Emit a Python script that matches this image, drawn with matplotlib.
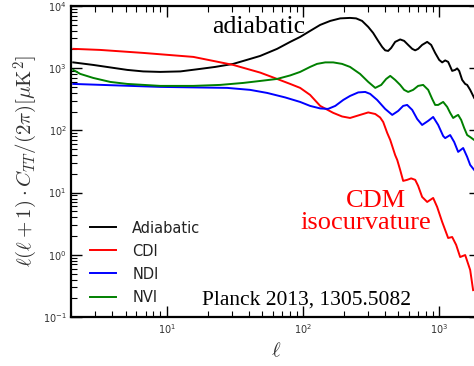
import matplotlib
matplotlib.use('Agg')
import matplotlib.pyplot as plt

plt.rcParams['mathtext.fontset'] = 'cm'

# values (multipole ell, l(l+1)C/2pi in muK^2)
ell_ad = [2.06, 2.89, 3.85, 5.13, 6.72, 8.96, 12.6, 17.6, 22.7, 30.8, 41.0, 48.6, 64.7,
          80.7, 95.5, 113, 134, 159, 188, 222, 246, 272, 302, 328, 357, 382, 402, 423,
          445, 476, 518, 554, 593, 635, 668, 702, 751, 818, 875, 936, 1002, 1054, 1109,
          1166, 1248, 1313, 1358, 1405, 1478, 1555, 1608, 1692, 1810]
cl_ad = [1236, 1125, 1026, 936, 885, 869, 885, 971, 1045, 1169, 1405, 1570, 2040,
         2640, 3170, 3960, 4950, 5740, 6300, 6410, 6300, 5740, 4590, 3680, 2740, 2190,
         1930, 1890, 2110, 2640, 2890, 2740, 2360, 2040, 1930, 2040, 2360, 2640, 2360,
         1755, 1355, 1236, 1330, 1259, 902, 936, 989, 902, 646, 557, 537, 447, 332]

ell_cdi = [2.06, 3.25, 6.72, 15.7, 30.8, 48.6, 64.7, 80.7, 95.5, 113, 134, 167, 194,
           222, 263, 302, 340, 369, 389, 416, 438, 476, 493, 518, 545, 583, 624, 668,
           702, 751, 818, 860, 905, 968, 1054, 1166, 1248, 1335, 1428, 1555, 1692, 1778]
cl_cdi = [2040, 1960, 1755, 1514, 1125, 847, 670, 557, 481, 371, 247, 191, 167, 158,
          177, 194, 183, 161, 136, 91, 70, 40, 33.4, 23.1, 15.4, 16.0, 16.9, 16.0, 12.8,
          8.5, 7.06, 7.6, 8.19, 5.87, 3.37, 1.86, 1.93, 1.44, 0.92, 0.99, 0.57, 0.27]

ell_ndi = [2.06, 8.96, 27.8, 41.0, 54.7, 74.1, 95.5, 113, 134, 153, 173, 198, 222, 255,
           287, 312, 351, 402, 453, 501, 545, 583, 635, 691, 751, 832, 905, 985, 1072,
           1109, 1206, 1291, 1381, 1503, 1608, 1692, 1810]
cl_ndi = [557, 499, 481, 447, 399, 338, 286, 247, 225, 221, 247, 308, 357, 407, 414,
          385, 308, 221, 177, 205, 247, 256, 213, 152, 122, 142, 164, 122, 81, 75, 84,
          65, 45, 52, 37.4, 27.8, 23.1]

ell_nvi = [2.06, 2.32, 2.89, 3.85, 5.13, 8.96, 15.7, 24.7, 36.5, 48.6, 64.7, 80.7, 95.5,
           113, 127, 146, 167, 194, 222, 263, 302, 340, 376, 409, 438, 476, 518, 554,
           593, 645, 702, 764, 832, 890, 936, 985, 1072, 1147, 1206, 1269, 1335, 1381,
           1453, 1529, 1608, 1692, 1810]
cl_nvi = [936, 807, 695, 600, 557, 518, 518, 537, 578, 622, 670, 763, 869, 1045, 1169,
          1236, 1236, 1169, 1045, 807, 600, 481, 537, 670, 750, 646, 537, 447, 414, 447,
          518, 537, 447, 320, 256, 256, 286, 238, 191, 158, 170, 177, 147, 109, 84, 78,
          70]

labels = ['Adiabatic', 'CDI', 'NDI', 'NVI']
colors = ['k', 'r', 'b', 'g']

fig = plt.figure(figsize=(4.74, 3.66), dpi=100)
ax = fig.add_axes([0.1508, 0.1339, 0.862, 0.850])

for x, y, lab, c in zip([ell_ad, ell_cdi, ell_ndi, ell_nvi],
                        [cl_ad, cl_cdi, cl_ndi, cl_nvi], labels, colors):
    ax.plot(x, y, color=c, lw=1.4, label=lab, solid_joinstyle='round')

ax.set_xscale('log')
ax.set_yscale('log')
ax.set_xlim(2, 2000)
ax.set_ylim(1e-1, 1e4)

for s in ax.spines.values():
    s.set_linewidth(1.6)
ax.tick_params(which='both', direction='in', top=True, right=True, labelsize=7,
               labelcolor='#333333')
ax.tick_params(which='major', length=8, width=1)
ax.tick_params(which='minor', length=4, width=0.8)

ax.set_xlabel(r'$\ell$', fontsize=15, color='#333333', labelpad=3)
ax.set_ylabel(r'$\ell(\ell+1)\cdot C_{TT}/(2\pi)[\mu{\rm K}^2]$', fontsize=15,
              color='#333333', labelpad=2)

leg = ax.legend(loc='upper left', bbox_to_anchor=(0.045, 0.31), frameon=False,
                borderpad=0, borderaxespad=0, fontsize=10.5, handlelength=1.8,
                handletextpad=1.1, labelspacing=0.55)
for t in leg.get_texts():
    t.set_color('#222222')

ax.text(0.459, 0.932, 'adiabatic', transform=ax.transAxes, ha='center', va='center',
        family='Liberation Serif', fontsize=18.5, color='k')
ax.text(0.744, 0.373, 'CDM', transform=ax.transAxes, ha='center', va='center',
        family='Liberation Serif', fontsize=19, color='r')
ax.text(0.721, 0.302, 'isocurvature', transform=ax.transAxes, ha='center', va='center',
        family='Liberation Serif', fontsize=19, color='r')
ax.text(0.575, 0.055, 'Planck 2013, 1305.5082', transform=ax.transAxes, ha='center',
        va='center', family='Liberation Serif', fontsize=15.5, color='k')

fig.savefig('out.png', dpi=100)
